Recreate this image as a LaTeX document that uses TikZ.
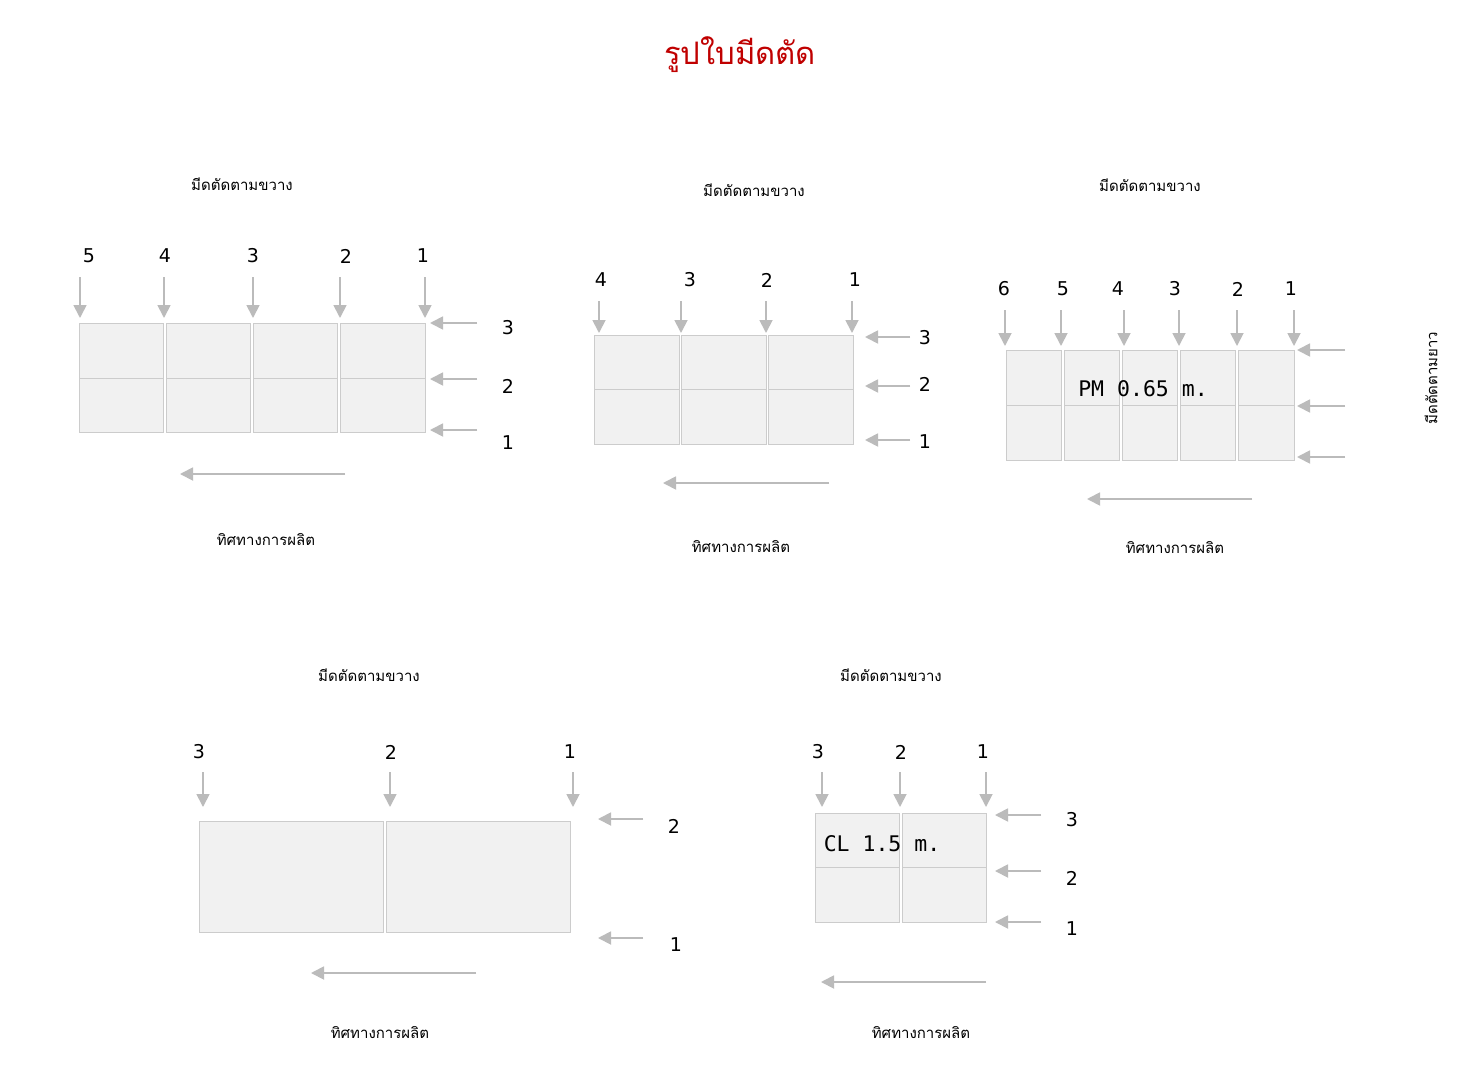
\documentclass[tikz,border=0pt]{standalone}
\usepackage{fontspec}
\setmainfont{DejaVu Sans}
\newfontfamily\thaifont[Script=Thai]{Loma}
\newfontfamily\monofont{DejaVu Sans Mono}
\usetikzlibrary{arrows.meta}
\definecolor{cellfill}{HTML}{F1F1F1}
\definecolor{celldraw}{HTML}{CCCCCC}
\definecolor{arrgray}{HTML}{BBBBBB}
\definecolor{titlered}{HTML}{C00000}
\tikzset{
  cell/.style={fill=cellfill,draw=celldraw,line width=1pt},
  arr/.style={draw=arrgray,line width=1.8pt,-{Triangle[length=13pt,width=13pt]}},
  num/.style={font=\fontsize{19}{22}\selectfont,inner sep=0pt},
  thlabel/.style={font=\thaifont\fontsize{15}{18}\selectfont,inner sep=0pt},
  mono/.style={font=\monofont\fontsize{21.5}{26}\selectfont,inner sep=0pt},
}
\begin{document}
\begin{tikzpicture}[x=1pt,y=-1pt]
\useasboundingbox[fill=white] (0,0) rectangle (1468,1071);
\node[font=\thaifont\fontsize{31}{36}\selectfont,text=titlered,inner sep=0pt] (title) at (740,55) {รูปใบมีดตัด};

% ---------- Diagram 1 ----------
\node[thlabel] (d1top) at (242,184) {มีดตัดตามขวาง};
\foreach \a/\b [count=\i] in {79/163,166/250,253/337,340/425}{
  \draw[cell] (\a,323) rectangle (\b,378);
  \draw[cell] (\a,378) rectangle (\b,432);
}
\foreach \x/\n/\lx in {80/5/89,164/4/165,253/3/253,340/2/346,425/1/423}{
  \node[num] (d1n\n) at (\lx,256) {\n};
  \coordinate (d1s\n) at (\x,277);
  \coordinate (d1e\n) at (\x,318);
  \draw[arr] (d1s\n) -- (d1e\n);
}
\foreach \y/\n/\ly in {323/3/328,379/2/386,430/1/443}{
  \node[num] (d1r\n) at (508,\ly) {\n};
  \coordinate (d1rs\n) at (477,\y);
  \coordinate (d1re\n) at (430,\y);
  \draw[arr] (d1rs\n) -- (d1re\n);
}
\coordinate (d1bs) at (345,474);
\coordinate (d1be) at (180,474);
\draw[arr] (d1bs) -- (d1be);
\node[thlabel] (d1bot) at (266,540) {ทิศทางการผลิต};

% ---------- Diagram 2 ----------
\node[thlabel] (d2top) at (754,190) {มีดตัดตามขวาง};
\foreach \a/\b in {594/679,681/766,768/853}{
  \draw[cell] (\a,335) rectangle (\b,389);
  \draw[cell] (\a,389) rectangle (\b,444);
}
\foreach \x/\n/\lx in {599/4/601,681/3/690,766/2/767,852/1/855}{
  \node[num] (d2n\n) at (\lx,280) {\n};
  \coordinate (d2s\n) at (\x,301);
  \coordinate (d2e\n) at (\x,333);
  \draw[arr] (d2s\n) -- (d2e\n);
}
\foreach \y/\n/\ly in {337/3/338,386/2/384,440/1/442}{
  \node[num] (d2r\n) at (925,\ly) {\n};
  \coordinate (d2rs\n) at (910,\y);
  \coordinate (d2re\n) at (865,\y);
  \draw[arr] (d2rs\n) -- (d2re\n);
}
\coordinate (d2bs) at (829,483);
\coordinate (d2be) at (663,483);
\draw[arr] (d2bs) -- (d2be);
\node[thlabel] (d2bot) at (741,547) {ทิศทางการผลิต};

% ---------- Diagram 3 ----------
\node[thlabel] (d3top) at (1150,185) {มีดตัดตามขวาง};
\foreach \a/\b in {1006/1061,1064/1119,1122/1177,1180/1235,1238/1294}{
  \draw[cell] (\a,350) rectangle (\b,405);
  \draw[cell] (\a,405) rectangle (\b,460);
}
\node[mono] (pm) at (1143,389) {PM 0.65 m.};
\foreach \x/\n/\lx in {1005/6/1004,1061/5/1063,1124/4/1118,1179/3/1175,1237/2/1238,1294/1/1291}{
  \node[num] (d3n\n) at (\lx,289) {\n};
  \coordinate (d3s\n) at (\x,310);
  \coordinate (d3e\n) at (\x,346);
  \draw[arr] (d3s\n) -- (d3e\n);
}
\foreach \y/\n in {350/3,406/2,457/1}{
  \coordinate (d3rs\n) at (1345,\y);
  \coordinate (d3re\n) at (1297,\y);
  \draw[arr] (d3rs\n) -- (d3re\n);
}
\coordinate (d3bs) at (1252,499);
\coordinate (d3be) at (1087,499);
\draw[arr] (d3bs) -- (d3be);
\node[thlabel] (d3bot) at (1175,548) {ทิศทางการผลิต};
\node[thlabel,rotate=90] (d3side) at (1431,378) {มีดตัดตามยาว};

% ---------- Diagram 4 ----------
\node[thlabel] (d4top) at (369,675) {มีดตัดตามขวาง};
\foreach \a/\b in {199/383,386/570}{
  \draw[cell] (\a,821) rectangle (\b,932);
}
\foreach \x/\n/\lx in {203/3/199,390/2/391,573/1/570}{
  \node[num] (d4n\n) at (\lx,752) {\n};
  \coordinate (d4s\n) at (\x,772);
  \coordinate (d4e\n) at (\x,807);
  \draw[arr] (d4s\n) -- (d4e\n);
}
\node[num] (d4r2) at (674,826) {2};
\node[num] (d4r1) at (676,945) {1};
\coordinate (d4rs2) at (643,819);
\coordinate (d4re2) at (598,819);
\draw[arr] (d4rs2) -- (d4re2);
\coordinate (d4rs1) at (643,938);
\coordinate (d4re1) at (598,938);
\draw[arr] (d4rs1) -- (d4re1);
\coordinate (d4bs) at (476,973);
\coordinate (d4be) at (311,973);
\draw[arr] (d4bs) -- (d4be);
\node[thlabel] (d4bot) at (380,1033) {ทิศทางการผลิต};

% ---------- Diagram 5 ----------
\node[thlabel] (d5top) at (891,675) {มีดตัดตามขวาง};
\foreach \a/\b in {815/899,902/986}{
  \draw[cell] (\a,813) rectangle (\b,867);
  \draw[cell] (\a,867) rectangle (\b,922);
}
\node[mono] (cl) at (882,844) {CL 1.5 m.};
\foreach \x/\n/\lx in {822/3/818,900/2/901,986/1/983}{
  \node[num] (d5n\n) at (\lx,752) {\n};
  \coordinate (d5s\n) at (\x,772);
  \coordinate (d5e\n) at (\x,807);
  \draw[arr] (d5s\n) -- (d5e\n);
}
\foreach \y/\n/\ly in {815/3/820,871/2/878,922/1/929}{
  \node[num] (d5r\n) at (1072,\ly) {\n};
  \coordinate (d5rs\n) at (1041,\y);
  \coordinate (d5re\n) at (995,\y);
  \draw[arr] (d5rs\n) -- (d5re\n);
}
\coordinate (d5bs) at (986,982);
\coordinate (d5be) at (821,982);
\draw[arr] (d5bs) -- (d5be);
\node[thlabel] (d5bot) at (921,1033) {ทิศทางการผลิต};
\end{tikzpicture}
\end{document}
